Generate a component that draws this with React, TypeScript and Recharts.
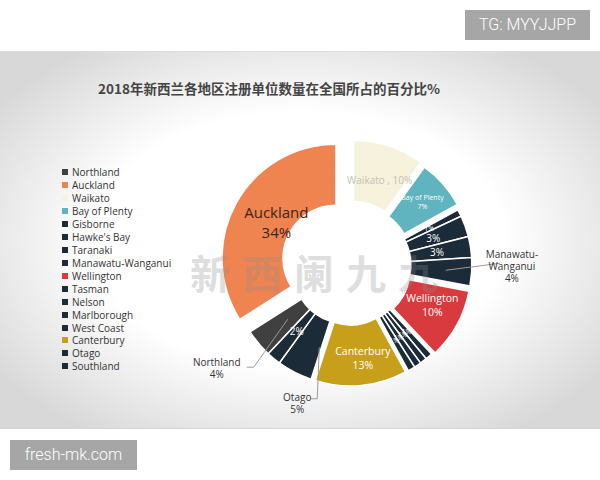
import React from "react";
import { PieChart, Pie, Cell } from "recharts";

const regions = [
  "Northland",
  "Auckland",
  "Waikato",
  "Bay of Plenty",
  "Gisborne",
  "Hawke's Bay",
  "Taranaki",
  "Manawatu-Wanganui",
  "Wellington",
  "Tasman",
  "Nelson",
  "Marlborough",
  "West Coast",
  "Canterbury",
  "Otago",
  "Southland",
];
const shares = [4, 34, 10, 7, 1, 3, 3, 4, 10, 1, 1, 1, 1, 13, 5, 2];
const colors = [
  "#404040",
  "#ef8450",
  "#f6f2dc",
  "#5fb4bf",
  "#1b2b38",
  "#1b2b38",
  "#1b2b38",
  "#1b2b38",
  "#d93a3d",
  "#1b2b38",
  "#1b2b38",
  "#1b2b38",
  "#1b2b38",
  "#c89f1a",
  "#1b2b38",
  "#1b2b38",
];
// slices that are pulled out of the ring together
const groups = [0, 1, 2, 3, 4, 4, 4, 4, 5, 6, 6, 6, 6, 7, 0, 0];
const explode = [6, 16, 12, 10, 8, 8, 6, 6];

const data = regions.map((name, i) => ({ name, value: shares[i] }));
const total = shares.reduce((a, b) => a + b, 0);

const CX = 350;
const CY = 266;
const INNER = 53;
const OUTER = 114;
const RAD = Math.PI / 180;
// Auckland ends at 12 o'clock
const START = 90 + ((shares[0] + shares[1]) / total) * 360;

const sliceMid: number[] = [];
{
  let c = 0;
  shares.forEach((v) => {
    sliceMid.push(START - ((c + v / 2) / total) * 360);
    c += v;
  });
}

const groupCenter = explode.map((e, g) => {
  let sx = 0;
  let sy = 0;
  shares.forEach((v, i) => {
    if (groups[i] !== g) return;
    sx += v * Math.cos(sliceMid[i] * RAD);
    sy += v * Math.sin(sliceMid[i] * RAD);
  });
  const a = Math.atan2(sy, sx);
  return { x: CX + e * Math.cos(a), y: CY - e * Math.sin(a) };
});

const FONT = "'Open Sans', 'Noto Sans', sans-serif";

function lines(x: number, y: number, rows: string[], size: number, fill: string, gap: number) {
  const top = y - ((rows.length - 1) * gap) / 2;
  return (
    <text x={x} y={top} fill={fill} fontSize={size} fontFamily={FONT} textAnchor="middle" dominantBaseline="central">
      {rows.map((r, k) => (
        <tspan key={k} x={x} y={top + k * gap}>
          {r}
        </tspan>
      ))}
    </text>
  );
}

function renderLabel(p: any, g: number) {
  const i = typeof p.index === "number" ? p.index : regions.indexOf(p.name);
  if (groups[i] !== g) return null;
  const c = groupCenter[g];
  const a = sliceMid[i] * RAD;
  const at = (r: number) => ({ x: c.x + r * Math.cos(a), y: c.y - r * Math.sin(a) });
  const pct = `${shares[i]}%`;
  const name = regions[i];

  switch (name) {
    case "Auckland": {
      const q = at(68);
      return lines(q.x, q.y - 4, ["Auckland", pct], 15, "#3a2418", 20);
    }
    case "Waikato": {
      const q = at(84);
      return lines(q.x, q.y + 5, [`Waikato , ${pct}`], 10, "#c2c0b4", 12);
    }
    case "Bay of Plenty": {
      const q = at(84);
      return lines(q.x + 2, q.y - 2, ["Bay of Plenty", pct], 7, "#ffffff", 9);
    }
    case "Wellington": {
      const q = at(86);
      return lines(q.x, q.y - 6, [name, pct], 10.5, "#ffffff", 14);
    }
    case "Canterbury": {
      const q = at(88);
      return lines(q.x + 4, q.y - 2, [name, pct], 10.5, "#ffffff", 14);
    }
    case "Manawatu-Wanganui": {
      const p0 = at(88);
      const x1 = c.x + OUTER + 28;
      const y1 = p0.y - 7;
      return (
        <g>
          <line x1={p0.x} y1={p0.y} x2={x1} y2={y1} stroke="#9a9a9a" strokeWidth={1} />
          {lines(x1 + 12, y1 + 3, ["Manawatu-", "Wanganui", pct], 10, "#333", 12)}
        </g>
      );
    }
    case "Otago": {
      const p0 = at(86);
      const x0 = p0.x + 12;
      const y1 = c.y + OUTER + 14;
      return (
        <g>
          <polyline points={`${x0},${p0.y} ${x0 - 2},${y1} ${x0 - 8},${y1}`} fill="none" stroke="#9a9a9a" strokeWidth={1} />
          {lines(x0 - 22, y1 + 4, ["Otago", pct], 10, "#333", 12)}
        </g>
      );
    }
    case "Northland": {
      const p0 = at(76);
      const x1 = p0.x - 34;
      const y1 = p0.y + 48;
      return (
        <g>
          <polyline points={`${p0.x},${p0.y} ${x1},${y1} ${x1 - 7},${y1}`} fill="none" stroke="#9a9a9a" strokeWidth={1} />
          {lines(x1 - 37, y1 + 1, ["Northland", pct], 10, "#333", 12)}
        </g>
      );
    }
    case "Southland": {
      const q = at(84);
      return lines(q.x + 4, q.y - 4, [pct], 10, "#ffffff", 10);
    }
    default: {
      const q = at(80);
      return lines(q.x, q.y, [pct], shares[i] > 1 ? 10 : 7, "#ffffff", 10);
    }
  }
}

const boxStyle: React.CSSProperties = {
  position: "absolute",
  height: 30,
  background: "#a6a6a6",
  color: "#fff",
  fontSize: 16,
  lineHeight: "30px",
  textAlign: "center",
  fontFamily: "Roboto, sans-serif",
  fontWeight: 300,
};

export default function App() {
  return (
    <div style={{ position: "absolute", left: 0, top: 0, width: 600, height: 480, background: "#fff", overflow: "hidden", fontFamily: FONT }}>
      <div
        style={{
          position: "absolute",
          left: 0,
          top: 51,
          width: 600,
          height: 376,
          borderTop: "1px solid #dedede",
          borderBottom: "1px solid #d6d6d6",
          background: "radial-gradient(ellipse 62% 62% at 50% 50%, #ffffff 55%, #d8d8d8 100%)",
        }}
      />
      <div style={{ ...boxStyle, left: 465, top: 10, width: 125 }}>TG: MYYJJPP</div>
      <div style={{ ...boxStyle, left: 10, top: 440, width: 127 }}>fresh-mk.com</div>
      <div
        style={{
          position: "absolute",
          left: 0,
          width: 538,
          top: 78,
          textAlign: "center",
          fontSize: 13.5,
          fontWeight: 700,
          color: "#444",
          fontFamily: "'Noto Sans CJK SC', sans-serif",
        }}
      >
        2018年新西兰各地区注册单位数量在全国所占的百分比%
      </div>
      <div style={{ position: "absolute", left: 0, top: 0 }}>
        <PieChart width={600} height={480} margin={{ top: 0, right: 0, bottom: 0, left: 0 }}>
          {explode.map((_, g) => (
            <Pie
              key={g}
              data={data}
              dataKey="value"
              nameKey="name"
              cx={groupCenter[g].x}
              cy={groupCenter[g].y}
              innerRadius={INNER}
              outerRadius={OUTER}
              startAngle={START}
              endAngle={START - 360}
              label={(p: any) => renderLabel(p, g)}
              labelLine={false}
              isAnimationActive={false}
            >
              {data.map((d, i) => (
                <Cell
                  key={d.name}
                  fill={groups[i] === g ? colors[i] : "none"}
                  stroke={groups[i] === g ? "#ffffff" : "none"}
                  strokeWidth={1.5}
                />
              ))}
            </Pie>
          ))}
        </PieChart>
      </div>
      <div
        style={{
          position: "absolute",
          left: 190,
          top: 243,
          fontSize: 40,
          letterSpacing: 12,
          color: "#8c8c8c",
          opacity: 0.28,
          fontWeight: 700,
          fontFamily: "'Noto Sans CJK SC', serif",
          pointerEvents: "none",
        }}
      >
        新西阑九九
      </div>
      <div style={{ position: "absolute", left: 62, top: 166 }}>
        {regions.map((r, i) => (
          <div key={r} style={{ height: 12.93, display: "flex", alignItems: "center", fontSize: 10, color: "#333" }}>
            <span style={{ width: 6, height: 6, background: colors[i], marginRight: 4, display: "inline-block" }} />
            {r}
          </div>
        ))}
      </div>
    </div>
  );
}
